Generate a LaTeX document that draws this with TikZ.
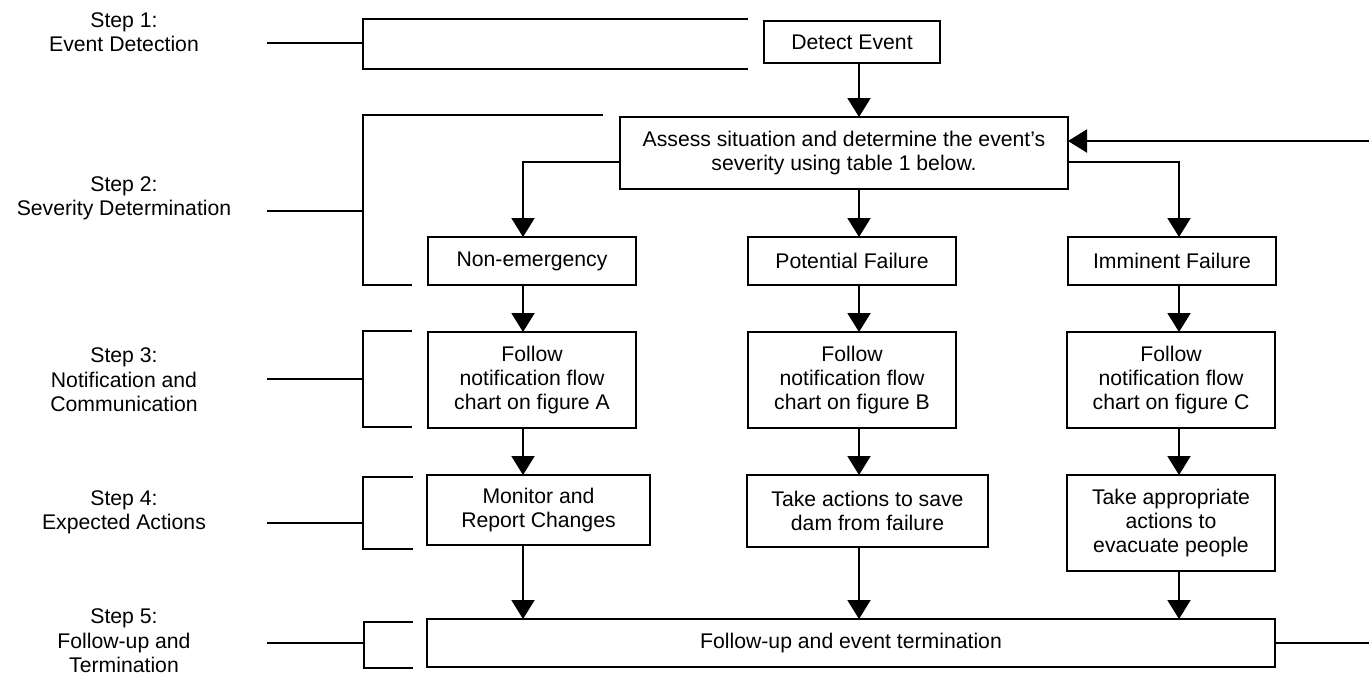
\documentclass[tikz,border=0pt]{standalone}
\usepackage{fontspec}
\setmainfont{Liberation Sans}
\usetikzlibrary{arrows.meta}
\begin{document}
\begin{tikzpicture}[x=0.5pt,y=-0.5pt,
  every node/.style={font=\fontsize{10.6}{12.2}\selectfont, align=center},
  fbox/.style={draw, line width=1pt, inner sep=0pt, outer sep=0pt},
  lab/.style={inner sep=0pt},
  ln/.style={line width=1pt},
  arr/.style={line width=1pt, -{Triangle[length=9.5pt,width=11.5pt]}}]
\useasboundingbox (0,0) rectangle (1369,677);

% column coordinates
\coordinate (c1) at (523,0);
\coordinate (c2) at (859,0);
\coordinate (c3) at (1179,0);
\coordinate (yb) at (0,162);
\coordinate (fbin) at (1369,141);
\coordinate (fbout) at (1369,643);

% step labels
\node[lab] (s1) at (124,32) {Step 1:\\Event Detection};
\node[lab] (s2) at (124,198) {Step 2:\\Severity Determination};
\node[lab] (s3) at (124,380) {Step 3:\\Notification and\\Communication};
\node[lab] (s4) at (124,512) {Step 4:\\Expected Actions};
\node[lab] (s5) at (124,641) {Step 5:\\Follow-up and\\Termination};

% brackets
\draw[ln] (267,43) -- (363,43);
\draw[ln] (748,19) -- (363,19) -- (363,69) -- (748,69);
\draw[ln] (267,211) -- (363,211);
\draw[ln] (603,115) -- (363,115) -- (363,285) -- (412,285);
\draw[ln] (267,379) -- (363,379);
\draw[ln] (412,331) -- (363,331) -- (363,427) -- (412,427);
\draw[ln] (267,523) -- (363,523);
\draw[ln] (413,477) -- (363,477) -- (363,549) -- (413,549);
\draw[ln] (267,643) -- (364,643);
\draw[ln] (413,622) -- (364,622) -- (364,668) -- (413,668);

% boxes
\node[fbox, minimum width=88pt, minimum height=21pt] (detect) at (852,42) {Detect Event};
\node[fbox, minimum width=224pt, minimum height=36pt] (assess) at (844,153) {Assess situation and determine the event’s\\severity using table 1 below.};
\node[fbox, minimum width=104pt, minimum height=24pt] (ne) at (532,261) {Non-emergency};
\node[fbox, minimum width=104pt, minimum height=24pt] (pf) at (852,261) {Potential Failure};
\node[fbox, minimum width=104pt, minimum height=24pt] (imf) at (1172,261) {Imminent Failure};
\node[fbox, minimum width=104pt, minimum height=48pt] (fa) at (532,380) {Follow\\notification flow\\chart on figure A};
\node[fbox, minimum width=104pt, minimum height=48pt] (fb) at (852,380) {Follow\\notification flow\\chart on figure B};
\node[fbox, minimum width=104pt, minimum height=48pt] (fc) at (1171,380) {Follow\\notification flow\\chart on figure C};
\node[fbox, minimum width=111.5pt, minimum height=35pt] (mon) at (538.5,510) {Monitor and\\Report Changes};
\node[fbox, minimum width=120.5pt, minimum height=36pt] (tak) at (867.5,511) {Take actions to save\\dam from failure};
\node[fbox, minimum width=104pt, minimum height=48pt] (tap) at (1171,523) {Take appropriate\\actions to\\evacuate people};
\node[fbox, minimum width=424pt, minimum height=24pt] (fu) at (851,643) {Follow-up and event termination};

% connectors
\draw[arr] (detect.south -| c2) -- (assess.north -| c2);
\draw[arr] (assess.south -| c2) -- (pf.north -| c2);
\draw[arr] (assess.west |- yb) -- (c1 |- yb) -- (ne.north -| c1);
\draw[arr] (assess.east |- yb) -- (c3 |- yb) -- (imf.north -| c3);
\draw[arr] (ne.south -| c1) -- (fa.north -| c1);
\draw[arr] (pf.south -| c2) -- (fb.north -| c2);
\draw[arr] (imf.south -| c3) -- (fc.north -| c3);
\draw[arr] (fa.south -| c1) -- (mon.north -| c1);
\draw[arr] (fb.south -| c2) -- (tak.north -| c2);
\draw[arr] (fc.south -| c3) -- (tap.north -| c3);
\draw[arr] (mon.south -| c1) -- (fu.north -| c1);
\draw[arr] (tak.south -| c2) -- (fu.north -| c2);
\draw[arr] (tap.south -| c3) -- (fu.north -| c3);
\draw[arr] (fbin) -- (assess.east |- fbin);
\draw[ln] (fu.east) -- (fbout);
\end{tikzpicture}
\end{document}
